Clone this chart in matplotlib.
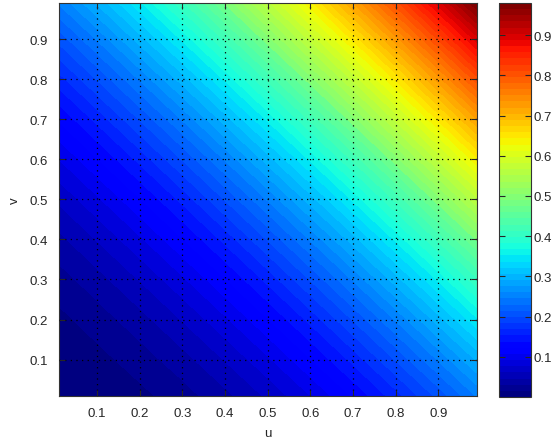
"""
    u-v 曲面的填充等高线图 (jet 色图 + 色条)
"""
import numpy as np
import matplotlib
matplotlib.use('Agg')
import matplotlib.pyplot as plt
from matplotlib.colors import Normalize

plt.rcParams['font.family'] = ['Liberation Sans', 'DejaVu Sans']

# 网格坐标
u_vals = [0.01, 0.1, 0.2, 0.3, 0.4, 0.5, 0.6, 0.7, 0.8, 0.9, 0.99]
v_vals = [0.01, 0.1, 0.2, 0.3, 0.4, 0.5, 0.6, 0.7, 0.8, 0.9, 0.99]

# 值 (行: v, 列: u)
z_rows = [
    [0.000, 0.003, 0.011, 0.024, 0.042, 0.065, 0.093, 0.126, 0.164, 0.207, 0.250],
    [0.003, 0.010, 0.023, 0.040, 0.063, 0.090, 0.123, 0.160, 0.203, 0.250, 0.297],
    [0.011, 0.023, 0.040, 0.063, 0.090, 0.123, 0.160, 0.203, 0.250, 0.303, 0.354],
    [0.024, 0.040, 0.063, 0.090, 0.123, 0.160, 0.203, 0.250, 0.303, 0.360, 0.416],
    [0.042, 0.063, 0.090, 0.123, 0.160, 0.203, 0.250, 0.303, 0.360, 0.423, 0.483],
    [0.065, 0.090, 0.123, 0.160, 0.203, 0.250, 0.303, 0.360, 0.423, 0.490, 0.555],
    [0.093, 0.123, 0.160, 0.203, 0.250, 0.303, 0.360, 0.423, 0.490, 0.563, 0.632],
    [0.126, 0.160, 0.203, 0.250, 0.303, 0.360, 0.423, 0.490, 0.563, 0.640, 0.714],
    [0.164, 0.203, 0.250, 0.303, 0.360, 0.423, 0.490, 0.563, 0.640, 0.723, 0.801],
    [0.207, 0.250, 0.303, 0.360, 0.423, 0.490, 0.563, 0.640, 0.723, 0.810, 0.893],
    [0.250, 0.297, 0.354, 0.416, 0.483, 0.555, 0.632, 0.714, 0.801, 0.893, 0.980],
]

tick_vals = [0.1, 0.2, 0.3, 0.4, 0.5, 0.6, 0.7, 0.8, 0.9]
tick_labels = ['0.1', '0.2', '0.3', '0.4', '0.5', '0.6', '0.7', '0.8', '0.9']


def main():
    z = np.array(z_rows)
    cmap = plt.get_cmap('jet', 64)
    norm = Normalize(vmin=z.min(), vmax=z.max())
    text_color = '#262626'

    fig = plt.figure(figsize=(5.53, 4.39), dpi=100)
    ax = fig.add_axes([0.1061, 0.0964, 0.7559, 0.8945])
    cax = fig.add_axes([0.9029, 0.0934, 0.0568, 0.8975])

    # 填充等高线
    levels = np.linspace(z.min(), z.max(), 64)
    cs = ax.contourf(u_vals, v_vals, z, levels=levels, cmap=cmap, norm=norm)
    cs.set_edgecolor('face')
    cs.set_linewidth(0.4)

    ax.set_xlim(u_vals[0], u_vals[-1])
    ax.set_ylim(v_vals[0], v_vals[-1])
    ax.set_xticks(tick_vals, tick_labels)
    ax.set_yticks(tick_vals, tick_labels)
    ax.tick_params(direction='in', top=True, right=True, length=4, width=0.8,
                   labelsize=9.5, colors=text_color, pad=8)
    ax.grid(True, color='black', linestyle=(0, (1, 3.5)), linewidth=0.9)
    ax.set_axisbelow(False)
    for sp in ax.spines.values():
        sp.set_color('#333333')
        sp.set_linewidth(0.8)

    ax.set_xlabel('u', fontsize=9.5, color=text_color, labelpad=6)
    ax.set_ylabel('v', fontsize=9.5, color=text_color, labelpad=6)

    # 色条
    sm = plt.cm.ScalarMappable(norm=norm, cmap=cmap)
    cb = fig.colorbar(sm, cax=cax)
    cb.set_ticks(tick_vals, labels=tick_labels)
    cax.tick_params(direction='in', left=True, right=True, length=4, width=0.8,
                    labelsize=9.5, colors=text_color, pad=2)
    cb.outline.set_edgecolor('#333333')
    cb.outline.set_linewidth(0.8)

    fig.savefig('out.png', dpi=100)


if __name__ == '__main__':
    main()
